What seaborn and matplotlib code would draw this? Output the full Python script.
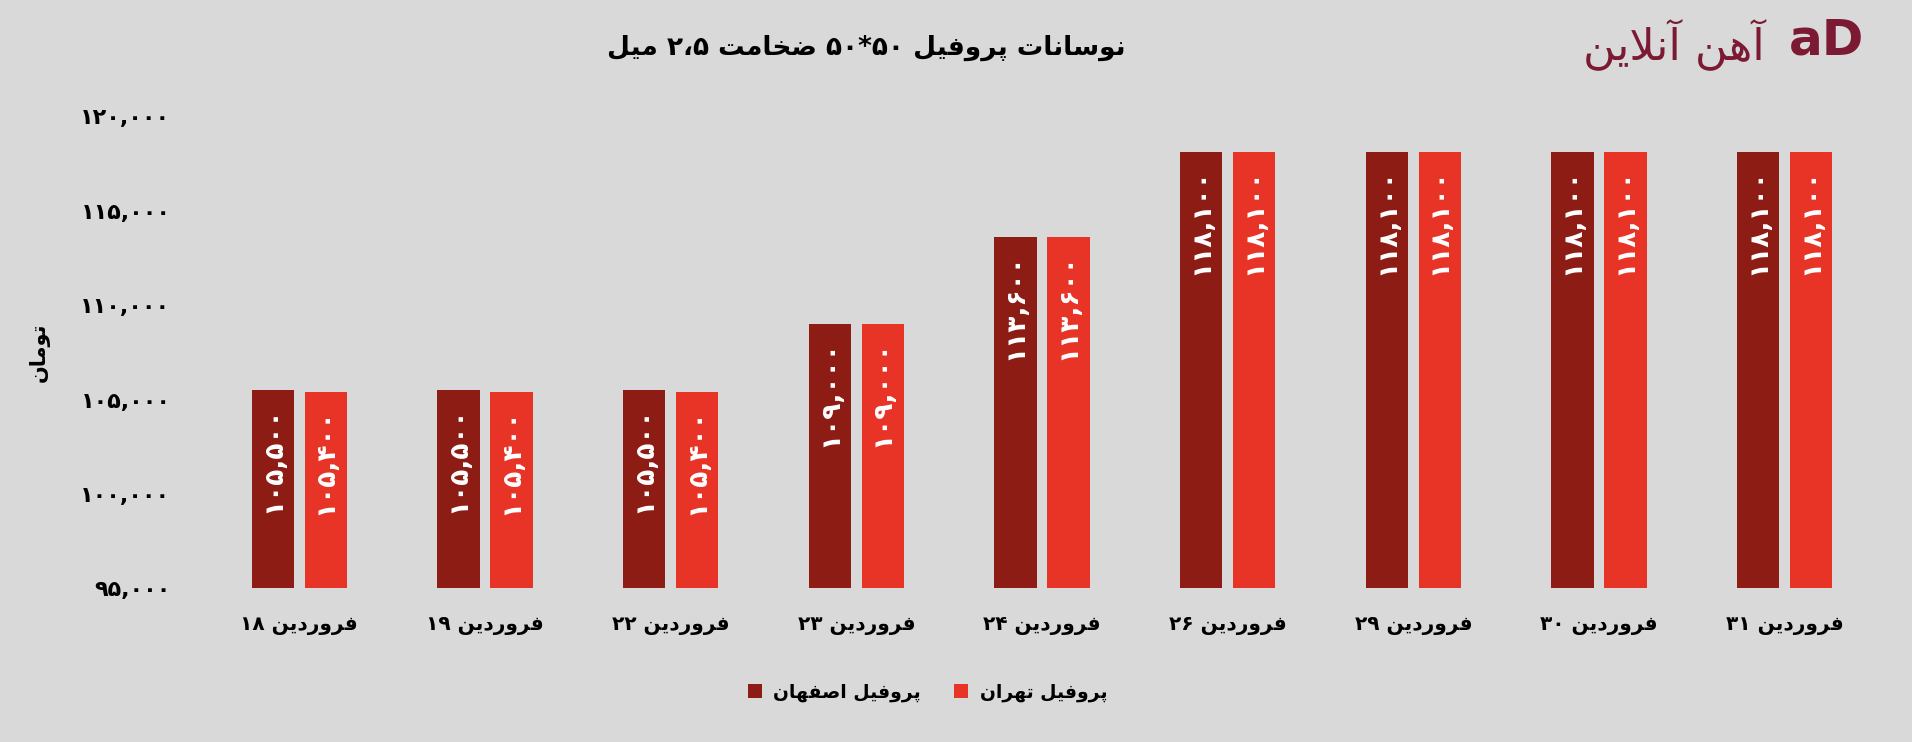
import matplotlib
matplotlib.use("Agg")
import matplotlib.pyplot as plt
import seaborn as sns
import pandas as pd
from matplotlib.ticker import FuncFormatter

# data
dates = ["فروردین 18", "فروردین 19", "فروردین 22", "فروردین 23", "فروردین 24",
         "فروردین 26", "فروردین 29", "فروردین 30", "فروردین 31"]
isfahan = [105500, 105500, 105500, 109000, 113600, 118100, 118100, 118100, 118100]
tehran = [105400, 105400, 105400, 109000, 113600, 118100, 118100, 118100, 118100]
series_names = ["پروفیل اصفهان", "پروفیل تهران"]
y_ticks = [95000, 100000, 105000, 110000, 115000, 120000]

title = "نوسانات پروفیل ۵۰*۵۰ ضخامت ۲،۵ میل"
y_label = "تومان"
brand = "آهن آنلاین"

DARK = "#8C1C14"
RED = "#E83426"
BG = "#D9D9D9"
BRAND = "#7B1A32"

# --- minimal persian shaping (matplotlib has no bidi / joining) ---
FORMS = {
    'ا': ('\uFE8D', '\uFE8E', None, None),
    'آ': ('\uFE81', '\uFE82', None, None),
    'د': ('\uFEA9', '\uFEAA', None, None),
    'ر': ('\uFEAD', '\uFEAE', None, None),
    'و': ('\uFEED', '\uFEEE', None, None),
    'ت': ('\uFE95', '\uFE96', '\uFE97', '\uFE98'),
    'خ': ('\uFEA5', '\uFEA6', '\uFEA7', '\uFEA8'),
    'س': ('\uFEB1', '\uFEB2', '\uFEB3', '\uFEB4'),
    'ص': ('\uFEB9', '\uFEBA', '\uFEBB', '\uFEBC'),
    'ض': ('\uFEBD', '\uFEBE', '\uFEBF', '\uFEC0'),
    'ف': ('\uFED1', '\uFED2', '\uFED3', '\uFED4'),
    'ل': ('\uFEDD', '\uFEDE', '\uFEDF', '\uFEE0'),
    'م': ('\uFEE1', '\uFEE2', '\uFEE3', '\uFEE4'),
    'ن': ('\uFEE5', '\uFEE6', '\uFEE7', '\uFEE8'),
    'ه': ('\uFEE9', '\uFEEA', '\uFEEB', '\uFEEC'),
    'ی': ('\uFBFC', '\uFBFD', '\uFBFE', '\uFBFF'),
    'پ': ('\uFB56', '\uFB57', '\uFB58', '\uFB59'),
}
LAM_ALEF = {'ا': ('\uFEFB', '\uFEFC'), 'آ': ('\uFEF5', '\uFEF6')}
FA_DIGITS = str.maketrans("0123456789", "۰۱۲۳۴۵۶۷۸۹")


def shape_word(w):
    out = []
    prev_joins = False
    i = 0
    while i < len(w):
        ch = w[i]
        if ch not in FORMS:
            out.append(ch)
            prev_joins = False
            i += 1
            continue
        if ch == 'ل' and i + 1 < len(w) and w[i + 1] in LAM_ALEF:
            lig = LAM_ALEF[w[i + 1]]
            out.append(lig[1] if prev_joins else lig[0])
            prev_joins = False
            i += 2
            continue
        f = FORMS[ch]
        nxt = w[i + 1] if i + 1 < len(w) else ''
        next_ok = f[2] is not None and nxt in FORMS
        if prev_joins and next_ok:
            g = f[3]
        elif prev_joins:
            g = f[1]
        elif next_ok:
            g = f[2]
        else:
            g = f[0]
        out.append(g)
        prev_joins = next_ok
        i += 1
    return ''.join(reversed(out))


def rtl(text):
    parts = []
    for tok in text.split(' '):
        if any(c in FORMS for c in tok):
            parts.append(shape_word(tok))
        else:
            parts.append(tok.translate(FA_DIGITS))
    return ' '.join(reversed(parts))


def fa_num(v):
    return f"{int(v):,}".translate(FA_DIGITS)


df = pd.DataFrame({
    "date": dates * 2,
    "series": [series_names[0]] * len(dates) + [series_names[1]] * len(dates),
    "price": isfahan + tehran,
})

sns.set_theme(style="white")
plt.rcParams['font.family'] = ['DejaVu Sans']
plt.rcParams['font.weight'] = 'bold'
plt.rcParams['text.color'] = 'black'
plt.rcParams['xtick.color'] = 'black'
plt.rcParams['ytick.color'] = 'black'
plt.rcParams['axes.labelcolor'] = 'black'

fig, ax = plt.subplots(figsize=(19.12, 7.42), dpi=100)
fig.patch.set_facecolor(BG)
ax.set_facecolor(BG)
fig.subplots_adjust(left=0.108, right=0.982, bottom=0.207, top=0.843)

sns.barplot(data=df, x="date", y="price", hue="series", order=dates,
            hue_order=series_names, palette=[DARK, RED],
            width=0.57, gap=0.2, saturation=1, linewidth=0,
            edgecolor='none', ax=ax)

ax.set_ylim(95000, 120000)
ax.set_yticks(y_ticks)
ax.yaxis.set_major_formatter(FuncFormatter(lambda v, p: fa_num(v)))
ax.set_xticks(range(len(dates)))
ax.set_xticklabels([rtl(d) for d in dates])
ax.tick_params(axis='y', length=0, pad=26, labelsize=16)
ax.tick_params(axis='x', length=0, pad=20, labelsize=14.5)
for t in ax.get_xticklabels() + ax.get_yticklabels():
    t.set_fontweight('bold')
ax.set_xlabel("")
ax.set_ylabel(rtl(y_label), fontsize=15, fontweight='bold', labelpad=22)
sns.despine(ax=ax, left=True, bottom=True)

# value labels inside the bars, rotated
for container in ax.containers:
    for bar in container:
        h = bar.get_height()
        ax.annotate(fa_num(h), (bar.get_x() + bar.get_width() / 2, h),
                    xytext=(0, -16), textcoords='offset pixels',
                    rotation=90, ha='center', va='top',
                    color='white', fontsize=19, fontweight='bold')

# legend
handles, labels = ax.get_legend_handles_labels()
ax.legend(handles, [rtl(l) for l in labels], loc='center',
          bbox_to_anchor=(0.485, 0.067), bbox_transform=fig.transFigure,
          ncol=2, frameon=False, handlelength=0.75, handleheight=0.75,
          columnspacing=1.8, handletextpad=0.6,
          prop={'size': 13.5, 'weight': 'bold'})

fig.text(0.453, 0.935, rtl(title), ha='center', va='center',
         fontsize=19, fontweight='bold', color='black')
fig.text(0.923, 0.94, rtl(brand), ha='right', va='center',
         fontsize=32, fontweight='normal', color=BRAND)
fig.text(0.975, 0.945, "aD", ha='right', va='center',
         fontsize=36, fontweight='bold', color=BRAND)

fig.savefig("out.png", dpi=100, facecolor=BG)
